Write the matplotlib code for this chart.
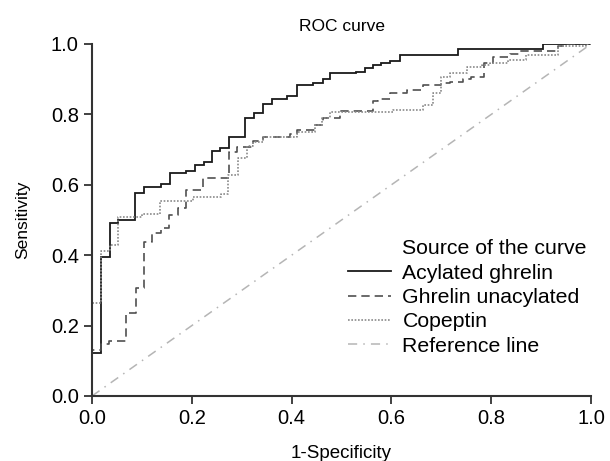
import matplotlib
matplotlib.use("Agg")
import matplotlib.pyplot as plt
from matplotlib.lines import Line2D

plt.rcParams['font.family'] = ['Liberation Sans', 'DejaVu Sans']

title = "ROC curve"
xlabel = "1-Specificity"
ylabel = "Sensitivity"
legend_title = "Source of the curve"
series_names = ["Acylated ghrelin", "Ghrelin unacylated", "Copeptin", "Reference line"]
ticks = [0.0, 0.2, 0.4, 0.6, 0.8, 1.0]

# step points: (1-specificity where the jump occurs, sensitivity after the jump)
acyl_fpr = [0, 0, 0.018, 0.036, 0.053, 0.086, 0.104, 0.138, 0.156, 0.188, 0.206, 0.224,
            0.240, 0.257, 0.275, 0.307, 0.325, 0.343, 0.360, 0.391, 0.411, 0.443, 0.462,
            0.477, 0.529, 0.547, 0.564, 0.580, 0.597, 0.617, 0.734, 0.904, 1.0]
acyl_tpr = [0, 0.123, 0.396, 0.491, 0.500, 0.578, 0.593, 0.601, 0.634, 0.640, 0.656, 0.666,
            0.696, 0.705, 0.735, 0.791, 0.805, 0.830, 0.843, 0.852, 0.884, 0.890, 0.900,
            0.917, 0.921, 0.931, 0.939, 0.947, 0.953, 0.970, 0.986, 1.0, 1.0]

unacyl_fpr = [0, 0, 0.019, 0.035, 0.069, 0.088, 0.105, 0.121, 0.138, 0.155, 0.172, 0.188,
              0.223, 0.275, 0.291, 0.323, 0.342, 0.397, 0.410, 0.447, 0.462, 0.497, 0.564,
              0.574, 0.597, 0.632, 0.664, 0.700, 0.717, 0.744, 0.760, 0.786, 0.804, 0.838,
              0.855, 0.934, 0.950, 1.0]
unacyl_tpr = [0, 0.131, 0.148, 0.157, 0.235, 0.306, 0.438, 0.462, 0.476, 0.514, 0.533, 0.585,
              0.618, 0.694, 0.708, 0.725, 0.735, 0.744, 0.757, 0.770, 0.791, 0.810, 0.839,
              0.843, 0.860, 0.869, 0.884, 0.888, 0.893, 0.900, 0.905, 0.945, 0.962, 0.972,
              0.980, 0.993, 1.0, 1.0]

cop_fpr = [0, 0, 0.019, 0.036, 0.053, 0.101, 0.136, 0.203, 0.258, 0.273, 0.293, 0.310,
           0.323, 0.342, 0.410, 0.447, 0.460, 0.477, 0.604, 0.664, 0.683, 0.700, 0.717,
           0.751, 0.781, 0.798, 0.834, 0.870, 0.934, 0.990, 1.0]
cop_tpr = [0, 0.263, 0.413, 0.429, 0.508, 0.517, 0.555, 0.564, 0.574, 0.628, 0.675, 0.710,
           0.722, 0.735, 0.749, 0.770, 0.790, 0.808, 0.813, 0.827, 0.860, 0.907, 0.917,
           0.934, 0.940, 0.945, 0.955, 0.969, 0.994, 1.0, 1.0]

ref_x = [0, 1]
ref_y = [0, 1]

fig = plt.figure(figsize=(6.1, 4.61), dpi=100)
ax = fig.add_axes([0.1508, 0.141, 0.8182, 0.7636])

l1, = ax.plot(acyl_fpr, acyl_tpr, drawstyle='steps-post', color='#1a1a1a', lw=1.3,
              solid_joinstyle='miter')
l2, = ax.plot(unacyl_fpr, unacyl_tpr, drawstyle='steps-post', color='#505050', lw=1.2,
              linestyle=(0, (5, 3)))
l3, = ax.plot(cop_fpr, cop_tpr, drawstyle='steps-post', color='#8a8a8a', lw=1.2,
              linestyle=(0, (1, 1)))
l4, = ax.plot(ref_x, ref_y, color='#b5b5b5', lw=1.1, linestyle=(0, (6, 4, 1, 4)))

ax.set_xlim(0, 1)
ax.set_ylim(0, 1)
ax.set_xticks(ticks)
ax.set_yticks(ticks)
ax.set_xticklabels([f"{t:.1f}" for t in ticks])
ax.set_yticklabels([f"{t:.1f}" for t in ticks])
for s in ['top', 'right']:
    ax.spines[s].set_visible(False)
for s in ['left', 'bottom']:
    ax.spines[s].set_color('#333333')
    ax.spines[s].set_linewidth(1.5)
ax.tick_params(axis='both', direction='out', length=6, width=1.3, color='#333333',
               labelsize=14.5, pad=3.5)

ax.set_title(title, fontsize=12.5, pad=9)
ax.set_xlabel(xlabel, fontsize=13.5, labelpad=12)
ax.set_ylabel(ylabel, fontsize=12.5, labelpad=15)

blank = Line2D([], [], color='none')
leg = ax.legend([blank, l1, l2, l3, l4], [legend_title] + series_names,
                loc='upper left', bbox_to_anchor=(0.513, 0.445), frameon=False,
                fontsize=15.3, handlelength=2.0, handletextpad=0.56, labelspacing=0.25,
                borderpad=0, borderaxespad=0)

fig.savefig("out.png", dpi=100)
